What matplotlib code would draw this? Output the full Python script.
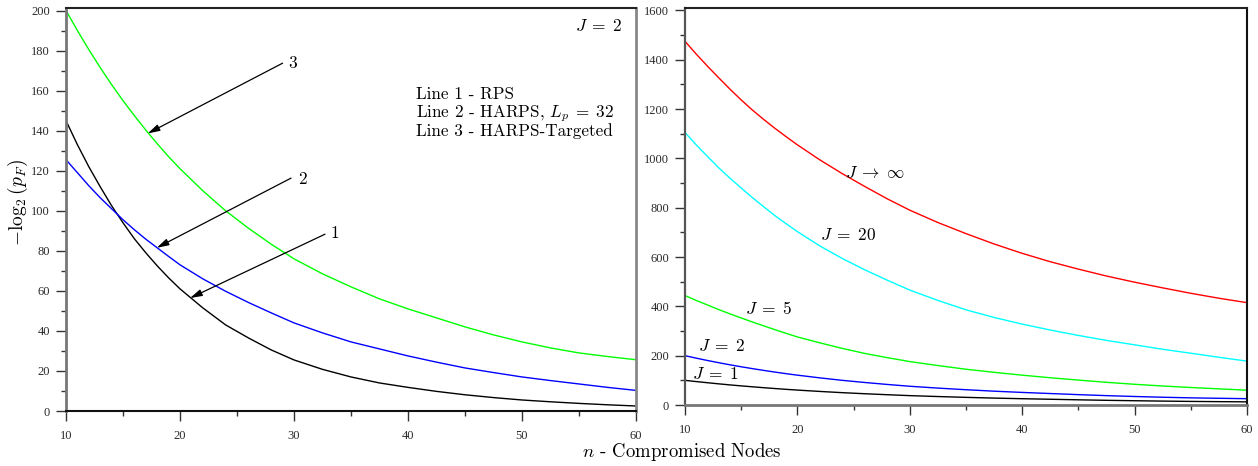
import matplotlib
matplotlib.use("Agg")
import matplotlib.pyplot as plt
from matplotlib.ticker import MultipleLocator

plt.rcParams['mathtext.fontset'] = 'cm'
plt.rcParams['axes.unicode_minus'] = False

# number of compromised nodes
n_nodes = [10, 11, 12, 13, 14, 15, 16, 17, 18, 19, 20, 22, 24, 26, 28, 30,
           32.5, 35, 37.5, 40, 42.5, 45, 47.5, 50, 52.5, 55, 57.5, 60]

# -log2(p_F), J = 2 (left panel)
rps = [145, 133, 122, 112, 102.5, 94, 86, 79, 72.5, 66.5, 61, 51.5, 43, 36.5,
       30.5, 25.5, 20.8, 17, 14, 11.8, 9.8, 8.1, 6.7, 5.5, 4.6, 3.8, 3.1, 2.5]
harps_lp32 = [125.5, 119, 112.5, 106.5, 101, 95.5, 90.5, 85.8, 81.5, 77.2, 73,
              66, 59.8, 54.2, 49, 44, 39, 34.5, 31, 27.5, 24.4, 21.5, 19.2, 17,
              15.2, 13.5, 11.8, 10.3]
harps_targeted = [200, 190, 180.5, 171.5, 163, 155, 147.5, 140.3, 133.5, 127,
                  121, 110, 100, 91.3, 83.3, 76, 68.5, 62, 56, 51, 46.5, 42, 38,
                  34.5, 31.5, 29, 27.2, 25.6]

# HARPS-Targeted for different J (right panel)
targeted_j1 = [100, 95, 90.3, 85.8, 81.5, 77.5, 73.8, 70.2, 66.8, 63.5, 60.5,
               55, 50, 45.7, 41.7, 38, 34.3, 31, 28, 25.5, 23.3, 21, 19, 17.3,
               15.8, 14.5, 13.6, 12.8]
targeted_j2 = harps_targeted
targeted_j5 = [444, 424, 405.5, 387, 369.5, 353, 336.5, 321, 305.5, 290.5, 276,
               252, 229.5, 209, 192, 176, 160, 145, 132.5, 121, 110.5, 101, 92,
               84, 77, 71, 65.5, 60]
targeted_j20 = [1105, 1055, 1008, 962, 920, 880, 841, 804, 768, 735, 703, 645,
                594, 548, 506, 466, 424, 386, 355, 328, 304, 282, 262, 244, 226,
                210, 193.5, 178]
targeted_jinf = [1475, 1423, 1374, 1327, 1281, 1237, 1196, 1158, 1122, 1088,
                 1055, 994, 938, 886, 836, 790, 740, 695, 653, 615, 581, 551,
                 523, 498, 475, 453, 433, 415]

left_ticks_y = [0, 20, 40, 60, 80, 100, 120, 140, 160, 180, 200]
right_ticks_y = [0, 200, 400, 600, 800, 1000, 1200, 1400, 1600]
x_ticks = [10, 20, 30, 40, 50, 60]

fig = plt.figure(figsize=(12.58, 4.66), dpi=100)
fig.patch.set_facecolor('white')

ax1 = fig.add_axes([66 / 1258, 55 / 466, 570 / 1258, 403.5 / 466])
ax2 = fig.add_axes([685 / 1258, 61 / 466, 562 / 1258, 397.5 / 466])


def style_axes(ax, ymax, yticks, yminor, spine_cols):
    ax.set_xlim(10, 60)
    ax.set_ylim(0, ymax)
    ax.set_xticks(x_ticks)
    ax.set_yticks(yticks)
    ax.xaxis.set_minor_locator(MultipleLocator(5))
    ax.yaxis.set_minor_locator(MultipleLocator(yminor))
    ax.tick_params(which='major', direction='out', length=7.5, width=1.0,
                   color='#333333', labelcolor='#2a2a2a')
    ax.tick_params(which='minor', direction='out', length=3.5, width=1.0,
                   color='#333333')
    ax.tick_params(axis='x', which='major', pad=6)
    ax.tick_params(axis='y', which='major', pad=4)
    ax.tick_params(top=False, right=False, which='both')
    for lbl in ax.get_xticklabels() + ax.get_yticklabels():
        lbl.set_fontfamily('Liberation Serif')
        lbl.set_fontsize(9)
    for side, (col, lw) in spine_cols.items():
        ax.spines[side].set_color(col)
        ax.spines[side].set_linewidth(lw)


style_axes(ax1, 201.5, left_ticks_y, 10,
           {'left': ('#777777', 2.0), 'right': ('#888888', 2.0),
            'top': ('#222222', 1.5), 'bottom': ('#111111', 1.5)})
style_axes(ax2, 1612, right_ticks_y, 100,
           {'left': ('#555555', 1.6), 'right': ('#111111', 1.5),
            'top': ('#222222', 1.5), 'bottom': ('#777777', 2.0)})

# left panel curves
ax1.plot(n_nodes, rps, color='black', lw=1.0)
ax1.plot(n_nodes, harps_lp32, color='#0000ff', lw=1.0)
ax1.plot(n_nodes, harps_targeted, color='#00ff00', lw=1.0)

arrow_kw = dict(arrowstyle='-|>,head_length=0.6,head_width=0.17',
                color='black', lw=0.9, mutation_scale=12,
                shrinkA=0, shrinkB=0)
ax1.annotate('', xy=(17.17, 138.6), xytext=(29.0, 173.7), arrowprops=arrow_kw)
ax1.annotate('', xy=(17.96, 81.5), xytext=(29.74, 116.3), arrowprops=arrow_kw)
ax1.annotate('', xy=(20.88, 56.4), xytext=(32.72, 88.3), arrowprops=arrow_kw)

num_kw = dict(family='cmr10', fontsize=12.5, ha='center', va='center')
ax1.text(29.87, 173.7, '3', **num_kw)
ax1.text(30.75, 115.9, '2', **num_kw)
ax1.text(33.6, 88.8, '1', **num_kw)

ax1.text(58.8, 190, r'$J\;=\;2$', fontsize=12.5, ha='right', va='baseline')

legend_kw = dict(family='cmr10', fontsize=12.3, ha='left', va='baseline')
ax1.text(40.7, 155.6, 'Line 1 - RPS', **legend_kw)
ax1.text(40.7, 146.8, r'Line 2 - HARPS, $L_p\;=\;32$', **legend_kw)
ax1.text(40.7, 137.1, 'Line 3 - HARPS-Targeted', **legend_kw)

# right panel curves
ax2.plot(n_nodes, targeted_jinf, color='#ff0000', lw=1.0)
ax2.plot(n_nodes, targeted_j20, color='#00ffff', lw=1.0)
ax2.plot(n_nodes, targeted_j5, color='#00ff00', lw=1.0)
ax2.plot(n_nodes, targeted_j2, color='#0000ff', lw=1.0)
ax2.plot(n_nodes, targeted_j1, color='black', lw=1.0)

lab_kw = dict(fontsize=12.5, ha='left', va='baseline')
ax2.text(24.2, 920, r'$J\;\rightarrow\;\infty$', **lab_kw)
ax2.text(22.0, 669, r'$J\;=\;20$', **lab_kw)
ax2.text(15.3, 368, r'$J\;=\;5$', **lab_kw)
ax2.text(11.2, 217, r'$J\;=\;2$', **lab_kw)
ax2.text(10.6, 105, r'$J\;=\;1$', **lab_kw)

fig.text(681.5 / 1258, 1 - 452 / 466, r'$n$ - Compromised Nodes',
         family='cmr10', fontsize=13.5, ha='center', va='center')
fig.text(18 / 1258, 1 - 203 / 466, r'$-\log_2(p_F)$', fontsize=14,
         rotation=90, ha='center', va='center')

fig.savefig('out.png', dpi=100, facecolor='white')
